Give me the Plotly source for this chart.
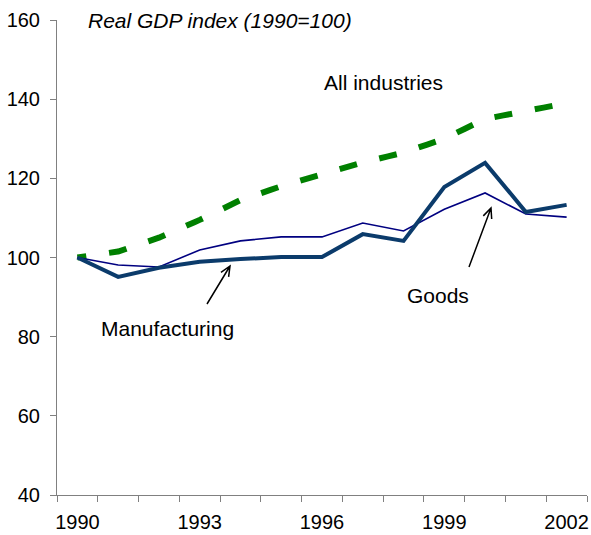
import numpy as np
import plotly.graph_objects as go

years = list(range(1990, 2003))
all_industries = [100, 101.5, 105, 109.5, 114.5, 118, 121, 124, 126.5, 130, 135, 137, 139]
manufacturing = [100, 95.1, 97.4, 98.9, 99.6, 100.1, 100.1, 105.9, 104.2, 117.8, 123.9, 111.5, 113.3]
goods = [100, 98.1, 97.6, 101.9, 104.2, 105.2, 105.2, 108.7, 106.7, 112.2, 116.3, 111.0, 110.2]
year_labels = [1990, 1993, 1996, 1999, 2002]

W, H = 591, 535
L, R, T, B = 57, 4, 20, 40
X0, X1 = 1989.5, 2002.5
Y0, Y1 = 40, 160
FONT = "Arial, Liberation Sans, sans-serif"


def to_data(px, py):
    # pixel position on the page -> data coordinates
    x = X0 + (px - L) / (W - L - R) * (X1 - X0)
    y = Y1 - (py - T) / (H - T - B) * (Y1 - Y0)
    return x, y


def arrow_path(tail, head, arm=11, spread=24):
    tx, ty = tail
    hx, hy = head
    ang = np.arctan2(ty - hy, tx - hx)
    pts = []
    for s in (-1, 1):
        a = ang + s * np.radians(spread)
        pts.append((hx + arm * np.cos(a), hy + arm * np.sin(a)))
    p = [to_data(*q) for q in [tail, head, pts[0], head, pts[1]]]
    return "M{},{} L{},{} M{},{} L{},{} L{},{}".format(
        p[0][0], p[0][1], p[1][0], p[1][1], p[2][0], p[2][1],
        p[3][0], p[3][1], p[4][0], p[4][1])


fig = go.Figure()

fig.add_trace(go.Scatter(x=years, y=all_industries, mode="lines",
                         line=dict(color="#008000", width=6, dash="9px,23px,9px,0px"),
                         name="All industries"))
fig.add_trace(go.Scatter(x=years, y=goods, mode="lines",
                         line=dict(color="#000080", width=1.6),
                         name="Goods"))
fig.add_trace(go.Scatter(x=years, y=manufacturing, mode="lines",
                         line=dict(color="#0B3B6B", width=4),
                         name="Manufacturing"))

# labels
notes = [
    ("<i>Real GDP index (1990=100)</i>", 86, 21, "left"),
    ("All industries", 383, 82, "center"),
    ("Manufacturing", 167, 328, "center"),
    ("Goods", 438, 295, "center"),
]
for txt, px, py, anchor in notes:
    fig.add_annotation(text=txt, xref="paper", yref="paper",
                       x=(px - L) / (W - L - R), y=(H - B - py) / (H - T - B),
                       xanchor=anchor, yanchor="middle", showarrow=False,
                       font=dict(size=21, color="black", family=FONT))

# arrows
for tail, head in [((207, 304), (230, 266)), ((469, 267), (491, 208))]:
    fig.add_shape(type="path", xref="x", yref="y", path=arrow_path(tail, head),
                  line=dict(color="black", width=1.5))

fig.update_xaxes(
    range=[X0, X1],
    tickvals=year_labels,
    ticktext=[str(y) for y in year_labels],
    ticks="",
    minor=dict(tick0=1989.5, dtick=1, ticks="outside", ticklen=6,
               tickcolor="#808080", tickwidth=1, showgrid=False),
    showline=True, linecolor="#808080", linewidth=1,
    showgrid=False, zeroline=False,
    tickfont=dict(size=20, color="black", family=FONT),
    ticklabelstandoff=9,
    automargin=False,
)
fig.update_yaxes(
    range=[Y0, Y1],
    dtick=20,
    ticks="outside", ticklen=6, tickcolor="#808080", tickwidth=1,
    showline=True, linecolor="#808080", linewidth=1,
    showgrid=False, zeroline=False,
    tickfont=dict(size=20, color="black", family=FONT),
    ticklabelstandoff=6,
    automargin=False,
)

fig.update_layout(
    width=W, height=H,
    margin=dict(l=L, r=R, t=T, b=B),
    plot_bgcolor="white", paper_bgcolor="white",
    showlegend=False,
)

# drop the default 8px page margin so the figure sits at the window corner
fig.write_html("out.html", config={"displayModeBar": False},
               post_script="document.body.style.margin='0px';")
